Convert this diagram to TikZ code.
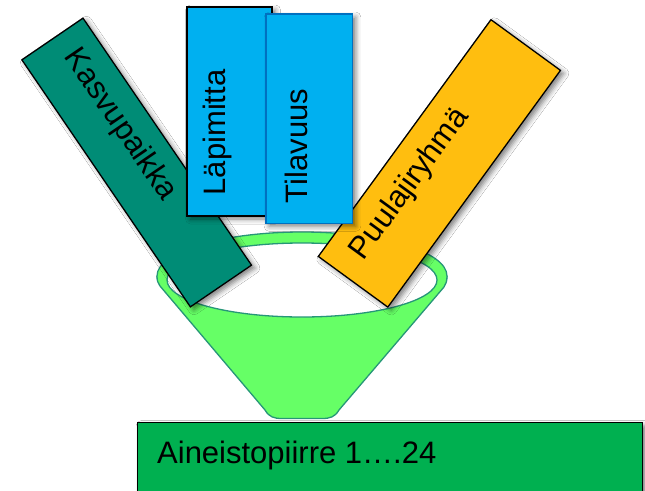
\documentclass[tikz,border=0pt]{standalone}
\usepackage{fontspec}
\setmainfont{Liberation Sans}
\usetikzlibrary{shadows.blur}
\definecolor{funnelfill}{RGB}{102,255,102}
\definecolor{funneledge}{RGB}{38,150,120}
\definecolor{tealbox}{RGB}{0,140,118}
\definecolor{skyblue}{RGB}{0,176,240}
\definecolor{bluerim}{RGB}{0,112,192}
\definecolor{goldbox}{RGB}{255,190,15}
\definecolor{basegreen}{RGB}{0,176,80}
\tikzset{
  card/.style={draw=black, line width=1.3pt, inner sep=0pt,
    blur shadow={shadow xshift=3.5pt, shadow yshift=-3pt, shadow blur radius=5pt, shadow opacity=50}},
  label text/.style={font=\fontsize{31}{31}\selectfont, inner sep=0pt},
  funnel line/.style={draw=funneledge, line width=1.3pt},
}
\begin{document}
\begin{tikzpicture}[x=1pt,y=-1pt]
\clip (0,0) rectangle (645,490);
\fill[white] (0,0) rectangle (645,490);

% funnel: rim, cone body, open mouth
\path[fill=funnelfill, funnel line] (302,276) ellipse [x radius=145, y radius=44];
\fill[funnelfill] (157,276) .. controls (157,281) and (158,283) .. (160,286)
  -- (265,410) .. controls (269,417) and (274,418.5) .. (282,418.5)
  -- (322,418.5) .. controls (330,418.5) and (335,417) .. (339,410)
  -- (444,287) .. controls (446,284) and (447,281) .. (447,276) -- cycle;
\draw[funnel line] (157,276) .. controls (157,281) and (158,283) .. (160,286)
  -- (265,410) .. controls (269,417) and (274,418.5) .. (282,418.5)
  -- (322,418.5) .. controls (330,418.5) and (335,417) .. (339,410)
  -- (444,287) .. controls (446,284) and (447,281) .. (447,276);
\path[fill=white, funnel line] (302,280) ellipse [x radius=135, y radius=37];

% tilted cards dropping into the funnel
\node[card, fill=goldbox, minimum width=293pt, minimum height=86pt, rotate=53.9] (puu) at (439.4,163.4) {};
\node[label text, rotate=53.9] (puut) at (410,184) {Puulajiryhmä};

\node[card, fill=tealbox, minimum width=299pt, minimum height=74pt, rotate=-55.7] (kas) at (136.7,162.5) {};
\node[label text, rotate=-55.7] (kast) at (120,125) {Kasvupaikka};

\node[card, fill=skyblue, minimum width=85pt, minimum height=209pt] (lap) at (229.5,111.5) {};
\node[label text, rotate=90, anchor=base] (lapt) at (225,132.5) {Läpimitta};

\node[card, draw=bluerim, line width=1.6pt, fill=skyblue, minimum width=86.6pt, minimum height=209.3pt] (til) at (309,118.7) {};
\node[label text, rotate=90, anchor=base] (tilt) at (307,146) {Tilavuus};

% result bar under the funnel
\node[card, fill=basegreen, minimum width=505pt, minimum height=90pt, anchor=north west] (base) at (137,422) {};
\node[label text, anchor=base west] (baset) at (157,463) {Aineistopiirre 1….24};
\end{tikzpicture}
\end{document}
